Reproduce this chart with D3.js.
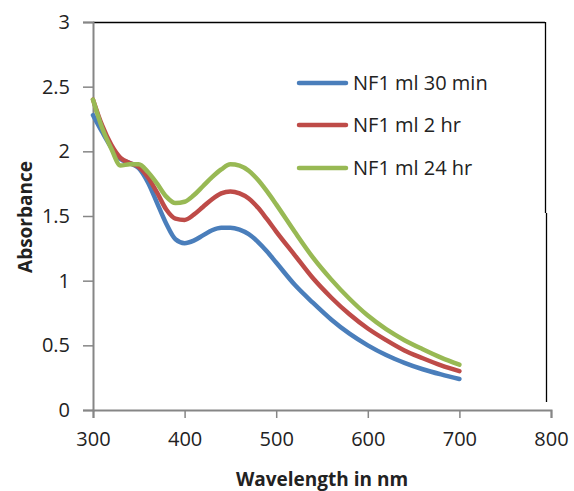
<!DOCTYPE html>
<html>
<head>
<meta charset="utf-8">
<script src="https://cdn.jsdelivr.net/npm/d3@7"></script>
<style>
html, body { margin: 0; padding: 0; background: #fff; }
svg { display: block; }
text { font-family: "Open Sans", sans-serif; fill: #222; }
</style>
</head>
<body>
<svg id="chart" width="574" height="491"></svg>
<script>
const wavelengths = [300,310,320,330,340,350,360,370,380,390,400,410,420,430,440,450,460,470,480,490,500,520,540,560,580,600,620,640,660,680,700];
const series30min = [2.28,2.15,2.03,1.94,1.91,1.87,1.76,1.60,1.44,1.32,1.29,1.31,1.35,1.39,1.41,1.41,1.395,1.36,1.30,1.225,1.14,0.97,0.83,0.70,0.59,0.50,0.425,0.365,0.315,0.275,0.24];
const series2hr   = [2.40,2.20,2.05,1.95,1.91,1.88,1.80,1.68,1.55,1.48,1.47,1.51,1.57,1.63,1.675,1.69,1.675,1.635,1.565,1.475,1.38,1.20,1.02,0.87,0.74,0.63,0.54,0.46,0.40,0.345,0.30];
const series24hr  = [2.40,2.18,2.02,1.89,1.90,1.90,1.84,1.75,1.65,1.60,1.61,1.66,1.73,1.80,1.86,1.90,1.89,1.85,1.78,1.69,1.59,1.38,1.18,1.01,0.86,0.73,0.625,0.54,0.47,0.405,0.35];
const seriesNames = ["NF1 ml 30 min","NF1 ml 2 hr","NF1 ml 24 hr"];
const seriesColors = ["#4a7ebb","#be4b48","#98b954"];
const xTicks = [300,400,500,600,700,800];
const yTicks = [0,0.5,1,1.5,2,2.5,3];

const svg = d3.select("#chart");
const x = d3.scaleLinear().domain([300,800]).range([93,551]);
const y = d3.scaleLinear().domain([0,3]).range([410,22]);
const axisColor = "#868686";

// top & right frame (black)
svg.append("line").attr("x1",93).attr("x2",545).attr("y1",22.5).attr("y2",22.5).attr("stroke","#000").attr("stroke-width",1.3);
svg.append("line").attr("x1",545.5).attr("x2",545.5).attr("y1",22).attr("y2",213).attr("stroke","#000").attr("stroke-width",1.3);
svg.append("line").attr("x1",546.5).attr("x2",546.5).attr("y1",213).attr("y2",402).attr("stroke","#000").attr("stroke-width",1.3);

// y axis
const yAxis = svg.append("g").attr("transform","translate(93,0)")
  .call(d3.axisLeft(y).tickValues(yTicks).tickSize(10).tickPadding(13).tickFormat(d3.format("")));
yAxis.select(".domain").attr("stroke",axisColor).attr("stroke-width",2);
yAxis.selectAll(".tick line").attr("stroke",axisColor).attr("stroke-width",1.5);
yAxis.selectAll(".tick text").attr("font-size",20).attr("fill","#222").attr("font-family","Open Sans");

// x axis
const xAxis = svg.append("g").attr("transform","translate(0,410)")
  .call(d3.axisBottom(x).tickValues(xTicks).tickSize(8).tickPadding(14).tickFormat(d3.format("d")));
xAxis.select(".domain").attr("stroke",axisColor).attr("stroke-width",2);
xAxis.selectAll(".tick line").attr("stroke",axisColor).attr("stroke-width",1.5);
xAxis.selectAll(".tick text").attr("font-size",20).attr("fill","#222").attr("font-family","Open Sans");

// lines
const allSeries = [series30min, series2hr, series24hr];
const line = d3.line().x(d => x(d[0])).y(d => y(d[1])).curve(d3.curveMonotoneX);
allSeries.forEach((s,i) => {
  svg.append("path")
    .datum(wavelengths.map((w,j) => [w, s[j]]))
    .attr("fill","none").attr("stroke",seriesColors[i]).attr("stroke-width",4.5)
    .attr("stroke-linejoin","round").attr("stroke-linecap","round")
    .attr("d", line);
});

// legend
const legendY = [83,125,168];
seriesNames.forEach((n,i) => {
  svg.append("line").attr("x1",299).attr("x2",346).attr("y1",legendY[i]).attr("y2",legendY[i])
    .attr("stroke",seriesColors[i]).attr("stroke-width",4.5).attr("stroke-linecap","round");
  svg.append("text").attr("x",353).attr("y",legendY[i]).attr("dy","0.35em")
    .attr("font-size",20).text(n);
});

// axis titles
svg.append("text").attr("x",322).attr("y",486).attr("text-anchor","middle")
  .attr("font-size",19).attr("font-weight","bold").text("Wavelength in nm");
svg.append("text").attr("transform","translate(32,217) rotate(-90)").attr("text-anchor","middle")
  .attr("font-size",19).attr("font-weight","bold").text("Absorbance");
</script>
</body>
</html>
